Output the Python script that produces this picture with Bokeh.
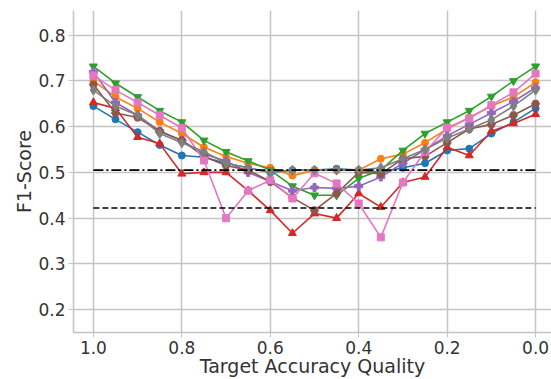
from bokeh.plotting import figure
from bokeh.models import Range1d, FixedTicker, NumeralTickFormatter
from bokeh.embed import file_html
from bokeh.resources import INLINE

x = [1.0, 0.95, 0.9, 0.85, 0.8, 0.75, 0.7, 0.65, 0.6, 0.55, 0.5,
     0.45, 0.4, 0.35, 0.3, 0.25, 0.2, 0.15, 0.1, 0.05, 0.0]

blue = [0.645, 0.616, 0.588, 0.560, 0.537, 0.533, 0.520, 0.510, 0.500, 0.505, 0.505,
        0.508, 0.505, 0.500, 0.510, 0.520, 0.548, 0.552, 0.585, 0.610, 0.640]
orange = [0.700, 0.665, 0.640, 0.610, 0.585, 0.555, 0.535, 0.520, 0.510, 0.493, 0.505,
          0.505, 0.505, 0.530, 0.540, 0.565, 0.595, 0.620, 0.645, 0.665, 0.697]
green = [0.732, 0.695, 0.665, 0.635, 0.610, 0.570, 0.545, 0.525, 0.505, 0.470, 0.450,
         0.450, 0.487, 0.505, 0.548, 0.585, 0.610, 0.635, 0.666, 0.700, 0.732]
red = [0.653, 0.640, 0.577, 0.563, 0.497, 0.500, 0.500, 0.460, 0.417, 0.367, 0.410,
       0.400, 0.454, 0.424, 0.478, 0.490, 0.555, 0.537, 0.590, 0.607, 0.627]
purple = [0.720, 0.653, 0.625, 0.590, 0.570, 0.540, 0.525, 0.500, 0.480, 0.460, 0.467,
          0.465, 0.470, 0.490, 0.520, 0.550, 0.580, 0.605, 0.630, 0.655, 0.685]
brown = [0.692, 0.630, 0.620, 0.590, 0.570, 0.535, 0.515, 0.505, 0.480, 0.445, 0.417,
         0.454, 0.500, 0.497, 0.530, 0.535, 0.565, 0.595, 0.605, 0.625, 0.650]
pink = [0.712, 0.680, 0.653, 0.625, 0.597, 0.526, 0.400, 0.460, 0.483, 0.443, 0.498,
        0.476, 0.432, 0.358, 0.478, 0.545, 0.598, 0.618, 0.647, 0.675, 0.716]
gray = [0.680, 0.645, 0.625, 0.585, 0.565, 0.545, 0.520, 0.510, 0.500, 0.505, 0.505,
        0.505, 0.505, 0.510, 0.530, 0.550, 0.575, 0.595, 0.615, 0.645, 0.680]

baseline_dashdot = 0.505
baseline_dashed = 0.422

x_ticks = [0.0, 0.2, 0.4, 0.6, 0.8, 1.0]
y_ticks = [0.2, 0.3, 0.4, 0.5, 0.6, 0.7, 0.8]

series = [
    (blue, "#1f77b4", "circle", 7),
    (orange, "#ff7f0e", "circle", 7),
    (green, "#2ca02c", "inverted_triangle", 8),
    (red, "#d62728", "triangle", 8),
    (purple, "#9467bd", "plus", 8),
    (brown, "#8c564b", "hex", 8),
    (pink, "#e377c2", "square", 7),
    (gray, "#7f7f7f", "diamond", 10),
]

p = figure(width=551, height=379, output_backend="svg", toolbar_location=None,
           x_range=Range1d(1.045, -0.036), y_range=Range1d(0.15, 0.854),
           min_border_left=73, min_border_right=0, min_border_top=10, min_border_bottom=47)
p.outline_line_color = None
p.background_fill_color = "white"

for ys, col, mk, sz in series:
    p.line(x, ys, line_color=col, line_width=1.6)
    p.scatter(x, ys, marker=mk, size=sz, fill_color=col, line_color=col)

p.line([x[0], x[-1]], [baseline_dashdot, baseline_dashdot], line_color="black",
       line_width=1.8, line_dash="10 3 2 3")
p.line([x[0], x[-1]], [baseline_dashed, baseline_dashed], line_color="black",
       line_width=1.5, line_dash="6 3")

p.xaxis.ticker = FixedTicker(ticks=x_ticks)
p.yaxis.ticker = FixedTicker(ticks=y_ticks)
p.xaxis.formatter = NumeralTickFormatter(format="0.0")
p.yaxis.formatter = NumeralTickFormatter(format="0.0")
for ax in (p.xaxis, p.yaxis):
    ax.major_label_text_font = "DejaVu Sans"
    ax.major_label_text_font_size = "17px"
    ax.major_label_text_color = "#333333"
    ax.axis_label_text_font = "DejaVu Sans"
    ax.axis_label_text_font_size = "19px"
    ax.axis_label_text_font_style = "normal"
    ax.axis_label_text_color = "#333333"
    ax.axis_line_color = "#c4c4c4"
    ax.axis_line_width = 1.5
    ax.major_tick_line_color = "#c4c4c4"
    ax.major_tick_out = 5
    ax.major_tick_in = 0
    ax.minor_tick_line_color = None
p.xaxis.axis_label = "Target Accuracy Quality"
p.yaxis.axis_label = "F1-Score"
p.xaxis.major_label_standoff = 3
p.yaxis.major_label_standoff = 3
p.xaxis.axis_label_standoff = -2
p.yaxis.axis_label_standoff = 0

p.xgrid.grid_line_color = "#c4c4c4"
p.ygrid.grid_line_color = "#c4c4c4"
p.xgrid.grid_line_width = 1.5
p.ygrid.grid_line_width = 1.5

open("out.html", "w").write(file_html(p, INLINE))
